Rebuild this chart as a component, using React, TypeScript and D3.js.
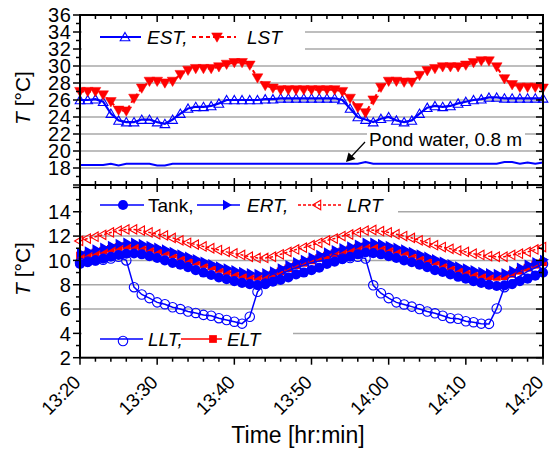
import React from 'react';
import * as d3 from 'd3';

const minutes = d3.range(0, 61);
const timeTicks = [0, 10, 20, 30, 40, 50, 60];
const timeLabels = ["13:20", "13:30", "13:40", "13:50", "14:00", "14:10", "14:20"];
const topTicks = [18, 20, 22, 24, 26, 28, 30, 32, 34, 36];
const botTicks = [2, 4, 6, 8, 10, 12, 14];

const EST = [26.0, 26.0, 26.1, 25.8, 24.4, 23.6, 23.4, 23.4, 23.7, 23.7, 23.4, 23.2, 23.7, 24.4, 25.0, 25.2, 25.2, 25.3, 25.6, 26.0,
  26.0, 26.0, 26.0, 26.0, 26.1, 26.1, 26.2, 26.2, 26.2, 26.2, 26.2, 26.2, 26.2, 26.2, 26.0, 25.0, 24.0, 23.7, 23.4, 23.8,
  24.0, 23.6, 23.4, 23.6, 24.4, 25.1, 25.3, 25.2, 25.3, 25.6, 25.8, 26.0, 26.1, 26.3, 26.3, 26.2, 26.2, 26.2, 26.2, 26.2, 26.2];
const LST = [27.0, 27.0, 27.0, 26.6, 25.8, 24.8, 24.7, 26.2, 27.4, 28.2, 28.2, 28.0, 28.2, 29.0, 29.5, 29.7, 29.7, 29.7, 29.9, 30.2,
  30.4, 30.4, 30.1, 28.6, 27.7, 27.4, 27.2, 27.2, 27.2, 27.2, 27.2, 27.2, 27.2, 27.2, 27.0, 26.2, 25.1, 24.5, 26.0, 27.5,
  28.2, 28.2, 28.1, 28.1, 28.9, 29.45, 29.7, 29.9, 29.9, 29.9, 30.1, 30.4, 30.6, 30.6, 29.9, 28.5, 27.8, 27.5, 27.5, 27.5, 27.4];
const POND = [18.35, 18.35, 18.35, 18.35, 18.5, 18.3, 18.5, 18.5, 18.5, 18.5, 18.3, 18.3, 18.5, 18.5, 18.5, 18.5, 18.5, 18.5, 18.5, 18.5,
  18.5, 18.5, 18.5, 18.5, 18.5, 18.5, 18.5, 18.5, 18.5, 18.5, 18.5, 18.5, 18.5, 18.5, 18.5, 18.5, 18.5, 18.7, 18.5, 18.5,
  18.5, 18.5, 18.5, 18.5, 18.5, 18.5, 18.5, 18.5, 18.5, 18.5, 18.5, 18.5, 18.5, 18.5, 18.5, 18.7, 18.7, 18.5, 18.65, 18.5, 18.65];

const TANK = [9.7, 9.85, 10.0, 10.15, 10.3, 10.45, 10.55, 10.57, 10.5, 10.35, 10.2, 10.0, 9.8, 9.65, 9.45, 9.2, 9.0, 8.8, 8.6, 8.45,
  8.3, 8.15, 8.05, 7.97, 8.05, 8.25, 8.4, 8.6, 8.85, 9.0, 9.2, 9.4, 9.7, 9.9, 10.1, 10.3, 10.5, 10.65, 10.6, 10.5,
  10.35, 10.2, 10.0, 9.85, 9.65, 9.45, 9.2, 9.05, 8.85, 8.65, 8.5, 8.3, 8.15, 8.0, 7.9, 7.95, 8.05, 8.3, 8.5, 8.75, 9.0];
const ERT = [10.6, 10.75, 10.9, 11.05, 11.2, 11.35, 11.45, 11.45, 11.35, 11.2, 11.05, 10.9, 10.7, 10.5, 10.3, 10.1, 9.9, 9.7, 9.5, 9.35,
  9.2, 9.05, 8.95, 8.9, 8.95, 9.1, 9.35, 9.6, 9.85, 10.05, 10.25, 10.45, 10.65, 10.85, 11.0, 11.15, 11.3, 11.45, 11.45, 11.35,
  11.2, 11.05, 10.9, 10.7, 10.5, 10.3, 10.1, 9.9, 9.7, 9.5, 9.35, 9.2, 9.05, 8.95, 8.9, 8.95, 9.15, 9.4, 9.65, 9.85, 10.05];
const LRT = [11.6, 11.8, 11.95, 12.1, 12.3, 12.45, 12.55, 12.55, 12.45, 12.3, 12.15, 12.05, 11.85, 11.65, 11.45, 11.3, 11.15, 11.0, 10.85, 10.7,
  10.57, 10.45, 10.3, 10.2, 10.2, 10.3, 10.5, 10.7, 10.9, 11.05, 11.25, 11.45, 11.65, 11.8, 12.0, 12.13, 12.3, 12.45, 12.5, 12.4,
  12.3, 12.15, 12.0, 11.85, 11.65, 11.45, 11.25, 11.1, 10.95, 10.8, 10.7, 10.55, 10.45, 10.35, 10.3, 10.3, 10.45, 10.55, 10.7, 10.9, 11.1];
const LLT = [9.8, 9.9, 10.0, 10.05, 10.15, 10.3, 10.0, 7.8, 7.2, 6.9, 6.55, 6.4, 6.15, 6.0, 5.8, 5.68, 5.52, 5.45, 5.25, 5.1,
  4.96, 4.8, 5.37, 7.42, 8.1, 8.5, 8.85, 9.15, 9.4, 9.6, 9.8, 9.95, 10.05, 10.1, 10.15, 10.2, 10.3, 10.15, 7.95, 7.3,
  6.9, 6.55, 6.38, 6.2, 6.0, 5.8, 5.65, 5.45, 5.25, 5.2, 5.0, 4.92, 4.8, 4.78, 6.05, 7.8, 8.3, 8.7, 9.1, 9.4, 9.7];
const ELT = [10.4, 10.5, 10.65, 10.8, 10.95, 11.1, 11.2, 11.2, 11.1, 11.0, 10.85, 10.7, 10.5, 10.3, 10.1, 9.9, 9.7, 9.5, 9.3, 9.1,
  8.95, 8.8, 8.7, 8.65, 8.7, 8.85, 9.1, 9.35, 9.6, 9.8, 10.0, 10.2, 10.4, 10.6, 10.75, 10.9, 11.05, 11.15, 11.2, 11.1,
  11.0, 10.85, 10.7, 10.5, 10.3, 10.1, 9.9, 9.7, 9.5, 9.3, 9.1, 8.95, 8.8, 8.7, 8.65, 8.7, 8.9, 9.15, 9.4, 9.65, 9.85];

const W = 555, H = 452;
const L = 80, R = 543, T1 = 15, MID = 185, B2 = 357.7;
const BLUE = '#0000ff', RED = '#ff0000', GRID = '#a8a8a8';
const FONT = '"Liberation Sans", Arial, sans-serif';

const x = d3.scaleLinear().domain([0, 60]).range([L, R]);
const yT = d3.scaleLinear().domain([16, 36]).range([MID, T1]);
const yB = d3.scaleLinear().domain([2, 16.2]).range([B2, MID]);

const sym = (type: any, size: number) => d3.symbol().type(type).size(size)() as string;
const triUp = sym(d3.symbolTriangle, 40);
const triLST = sym(d3.symbolTriangle, 50);
const triERT = sym(d3.symbolTriangle, 46);
const triLRT = sym(d3.symbolTriangle, 38);
const circFill = sym(d3.symbolCircle, 80);
const circOpen = sym(d3.symbolCircle, 70);
const square = sym(d3.symbolSquare, 60);

type MarkerProps = { px: number; py: number; kind: string };
function Marker({ px, py, kind }: MarkerProps) {
  switch (kind) {
    case 'EST':
      return <path d={triUp} transform={`translate(${px},${py + 1})`} fill="none" stroke={BLUE} strokeWidth={1.1} />;
    case 'LST':
      return <path d={triLST} transform={`translate(${px},${py - 1}) rotate(180)`} fill={RED} stroke={RED} strokeWidth={0.5} />;
    case 'TANK':
      return <path d={circFill} transform={`translate(${px},${py})`} fill={BLUE} />;
    case 'ERT':
      return <path d={triERT} transform={`translate(${px},${py}) rotate(90)`} fill={BLUE} />;
    case 'LRT':
      return <path d={triLRT} transform={`translate(${px},${py}) rotate(-90)`} fill="none" stroke={RED} strokeWidth={1.1} />;
    case 'LLT':
      return <path d={circOpen} transform={`translate(${px},${py})`} fill="none" stroke={BLUE} strokeWidth={1.1} />;
    case 'ELT':
      return <path d={square} transform={`translate(${px},${py})`} fill={RED} />;
  }
  return null;
}

function Series({ data, yS, kind, color, dash, width }: any) {
  const line = d3.line<number>().x((_, i) => x(minutes[i])).y((d) => yS(d));
  return (
    <g>
      <path d={line(data) as string} fill="none" stroke={color} strokeWidth={width} strokeDasharray={dash} />
      {kind && data.map((d: number, i: number) => <Marker key={i} px={x(minutes[i])} py={yS(d)} kind={kind} />)}
    </g>
  );
}

function Frame({ yS, top, bottom, major, minorStep, labels, showXLabels }: any) {
  const [lo, hi] = yS.domain();
  const minors = d3.range(Math.ceil(lo), hi + 0.001, minorStep);
  const xMinors = d3.range(0, 61, 2);
  return (
    <g>
      {minors.map((v: number) => {
        const isMaj = major.includes(v);
        return <line key={'l' + v} x1={L} x2={L - (isMaj ? 7 : 4)} y1={yS(v)} y2={yS(v)} stroke="#000" strokeWidth={1.5} />;
      })}
      {minors.map((v: number) => {
        const isMaj = major.includes(v);
        return <line key={'r' + v} x1={R} x2={R - (isMaj ? 7 : 4)} y1={yS(v)} y2={yS(v)} stroke="#000" strokeWidth={1.5} />;
      })}
      {xMinors.map((t: number) => {
        const isMaj = t % 10 === 0;
        return <line key={'t' + t} x1={x(t)} x2={x(t)} y1={top} y2={top + (isMaj ? 7 : 4)} stroke="#000" strokeWidth={1.5} />;
      })}
      {xMinors.map((t: number) => {
        const isMaj = t % 10 === 0;
        const len = isMaj ? 7 : 4;
        return showXLabels
          ? <line key={'b' + t} x1={x(t)} x2={x(t)} y1={bottom} y2={bottom + len} stroke="#000" strokeWidth={1.5} />
          : <line key={'b' + t} x1={x(t)} x2={x(t)} y1={bottom} y2={bottom - len} stroke="#000" strokeWidth={1.5} />;
      })}
      {labels.map((v: number) => (
        <text key={'lab' + v} x={L - 8.5} y={yS(v)} dy="0.36em" textAnchor="end" fontSize={20} letterSpacing={0.6} fontFamily={FONT}>{v}</text>
      ))}
      <rect x={L} y={top} width={R - L} height={bottom - top} fill="none" stroke="#000" strokeWidth={2} />
    </g>
  );
}

export default function App() {
  const gridTop = [18, 20, 22, 24, 26, 28, 30, 32, 34];
  const gridBot = [4, 6, 8, 10, 12, 14];
  return (
    <svg width={W} height={H} style={{ position: 'absolute', left: 0, top: 0, background: '#fff' }} fontFamily={FONT}>
      <rect x={0} y={0} width={W} height={H} fill="#fff" />
      {gridTop.map((v) => <line key={'gt' + v} x1={L} x2={R} y1={yT(v)} y2={yT(v)} stroke={GRID} strokeWidth={1.5} />)}
      {gridBot.map((v) => <line key={'gb' + v} x1={L} x2={R} y1={yB(v)} y2={yB(v)} stroke={GRID} strokeWidth={1.5} />)}
      <rect x={L + 2} y={19} width={223} height={37} fill="#fff" />
      <rect x={367} y={126} width={158} height={22} fill="#fff" />
      <rect x={L + 2} y={190} width={316} height={32} fill="#fff" />
      <rect x={L + 2} y={328} width={211} height={27} fill="#fff" />

      <Series data={POND} yS={yT} color={BLUE} width={2} />
      <Series data={EST} yS={yT} kind="EST" color={BLUE} width={2.2} />
      <Series data={LST} yS={yT} kind="LST" color={RED} width={2} dash="4,3" />

      <Series data={LRT} yS={yB} kind="LRT" color={RED} width={1.5} dash="3,2" />
      <Series data={ELT} yS={yB} kind="ELT" color={RED} width={1.5} />
      <Series data={ERT} yS={yB} kind="ERT" color={BLUE} width={1.5} />
      <Series data={TANK} yS={yB} kind="TANK" color={BLUE} width={1.5} />
      <Series data={LLT} yS={yB} kind="LLT" color={BLUE} width={1.5} />

      <Frame yS={yT} top={T1} bottom={MID} major={topTicks.concat([16])} minorStep={1} labels={topTicks} showXLabels={false} />
      <Frame yS={yB} top={MID} bottom={B2} major={botTicks.concat([16])} minorStep={1} labels={botTicks} showXLabels={true} />

      {timeTicks.map((t, i) => (
        <text key={'xl' + t} transform={`translate(${x(t) + 1.5},${B2 + 26}) rotate(-45)`} textAnchor="end" fontSize={19} letterSpacing={-0.4} fontFamily={FONT}>{timeLabels[i]}</text>
      ))}
      <text x={298} y={443} textAnchor="middle" fontSize={23} fontFamily={FONT}>Time [hr:min]</text>

      <text transform={`translate(30,98) rotate(-90)`} textAnchor="middle" fontSize={21} fontFamily={FONT}>
        <tspan fontStyle="italic">T</tspan> [°C]
      </text>
      <text transform={`translate(30,269) rotate(-90)`} textAnchor="middle" fontSize={21} fontFamily={FONT}>
        <tspan fontStyle="italic">T</tspan> [°C]
      </text>

      <line x1={100} x2={141} y1={37} y2={37} stroke={BLUE} strokeWidth={2.2} />
      <Marker px={125} py={37} kind="EST" />
      <text x={147} y={44} fontSize={19} fontStyle="italic">EST,</text>
      <line x1={192} x2={236} y1={37} y2={37} stroke={RED} strokeWidth={2} strokeDasharray="4,3" />
      <Marker px={217} py={37} kind="LST" />
      <text x={247} y={44} fontSize={19} fontStyle="italic">LST</text>

      <text x={369} y={146} fontSize={19}>Pond water, 0.8 m</text>
      <line x1={365} y1={142} x2={351} y2={157} stroke="#000" strokeWidth={1.2} />
      <path d="M346,162 L348.5,152.5 L355.5,159 Z" fill="#000" />

      <line x1={100} x2={144} y1={205} y2={205} stroke={BLUE} strokeWidth={1.5} />
      <Marker px={123} py={205} kind="TANK" />
      <text x={148} y={212} fontSize={19}>Tank,</text>
      <line x1={197} x2={240} y1={205} y2={205} stroke={BLUE} strokeWidth={1.5} />
      <Marker px={226} py={205} kind="ERT" />
      <text x={247} y={212} fontSize={19} fontStyle="italic">ERT,</text>
      <line x1={298} x2={343} y1={205} y2={205} stroke={RED} strokeWidth={1.5} strokeDasharray="3,2" />
      <Marker px={318} py={205} kind="LRT" />
      <text x={347} y={212} fontSize={19} fontStyle="italic">LRT</text>

      <line x1={100} x2={143} y1={339} y2={339} stroke={BLUE} strokeWidth={1.5} />
      <Marker px={123} py={341} kind="LLT" />
      <text x={148} y={346} fontSize={19} fontStyle="italic">LLT,</text>
      <line x1={181} x2={222} y1={339} y2={339} stroke={RED} strokeWidth={1.5} />
      <Marker px={213} py={339} kind="ELT" />
      <text x={227} y={346} fontSize={19} fontStyle="italic">ELT</text>
    </svg>
  );
}
